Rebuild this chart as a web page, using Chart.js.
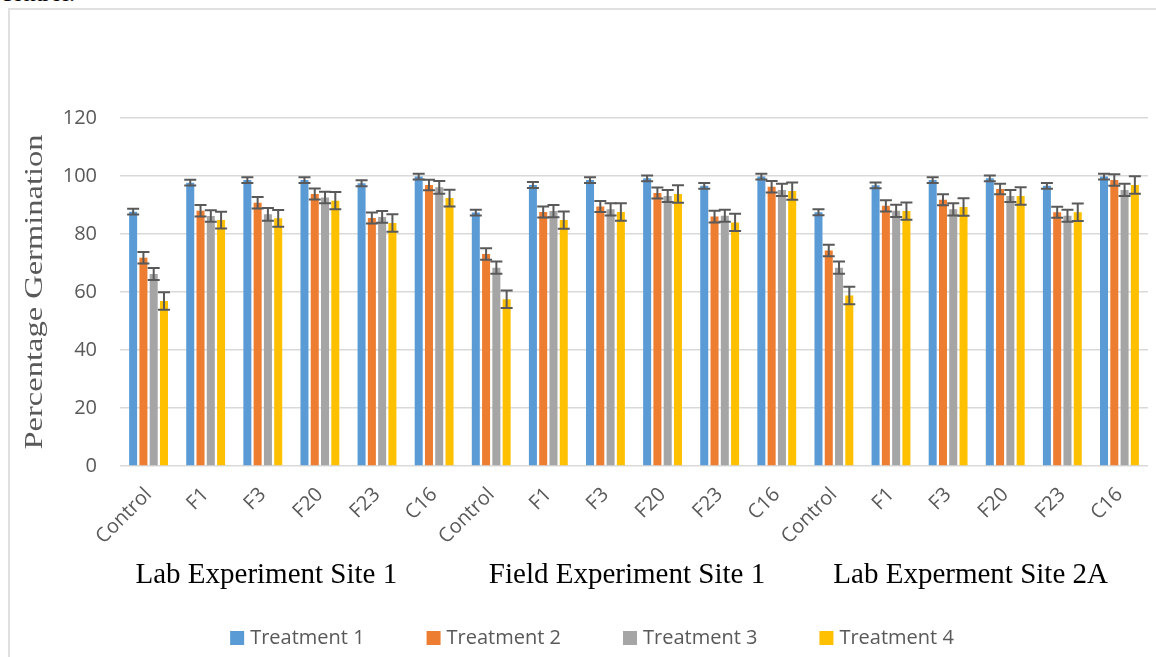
<!DOCTYPE html>
<html>
<head>
<meta charset="utf-8">
<script src="https://cdn.jsdelivr.net/npm/chart.js@4/dist/chart.umd.min.js"></script>
<style>
  body { margin: 0; background: #fff; overflow: hidden; }
  #frame { position: absolute; left: 8px; top: 8px; width: 2000px; height: 2000px;
    border-left: 2px solid #e0e0e0; border-top: 2px solid #e0e0e0; }
  #clip { position: absolute; left: 1px; top: -19px; font: 24px 'Liberation Serif', serif;
    line-height: 24px; color: #000; }
  #myChart { position: absolute; left: 0; top: 0; }
</style>
</head>
<body>
<div id="clip">control.</div>
<div id="frame"></div>
<canvas id="myChart" width="1156" height="657"></canvas>
<script>
const categories = ['Control', 'F1', 'F3', 'F20', 'F23', 'C16',
  'Control', 'F1', 'F3', 'F20', 'F23', 'C16',
  'Control', 'F1', 'F3', 'F20', 'F23', 'C16'];
const groups = ['Lab Experiment Site 1', 'Field Experiment Site 1', 'Lab Experment Site 2A'];
const seriesNames = ['Treatment 1', 'Treatment 2', 'Treatment 3', 'Treatment 4'];

const treatment1 = [87.7, 97.7, 98.6, 98.6, 97.5, 99.8, 87.4, 96.9, 98.6, 99.2, 96.6, 99.8, 87.5, 96.8, 98.6, 99.2, 96.6, 99.8];
const treatment2 = [71.8, 88.0, 90.8, 93.8, 85.5, 96.9, 73.1, 87.6, 89.5, 94.1, 86.0, 96.3, 74.3, 89.7, 91.8, 95.5, 87.5, 98.6];
const treatment3 = [66.2, 86.2, 86.8, 92.6, 85.9, 96.1, 68.4, 87.9, 88.5, 93.1, 86.3, 95.2, 68.4, 88.0, 88.5, 93.1, 86.3, 95.2];
const treatment4 = [56.9, 84.8, 85.4, 91.5, 83.8, 92.4, 57.5, 84.8, 87.6, 93.8, 84.0, 94.8, 58.8, 87.9, 89.3, 93.1, 87.5, 96.9];

const error1 = [1, 1, 1, 1, 1, 1, 1, 1, 1, 1, 1, 1, 1, 1, 1, 1, 1, 1];
const error2 = [2, 2, 2, 1.9, 1.9, 1.8, 2, 1.9, 1.9, 1.9, 2, 2, 2, 1.9, 1.9, 1.8, 1.9, 2];
const error3 = [2.1, 2, 2.2, 2, 2, 2.2, 2.1, 2.1, 2.1, 2.1, 2.1, 2.1, 2.1, 2.1, 2.1, 2.1, 2.1, 2.1];
const error4 = [3, 2.9, 2.9, 3, 3, 2.9, 3, 3, 3, 3, 3, 3, 3, 3, 3, 3, 3, 3];

const yTicks = [0, 20, 40, 60, 80, 100, 120];

const colors = ['#5B9BD5', '#ED7D31', '#A5A5A5', '#FFC000'];
const values = [treatment1, treatment2, treatment3, treatment4];
const errors = [error1, error2, error3, error4];

const tickFont = { family: "'Open Sans'", size: 20 };
const grey = '#595959';

// error bars, axis title, group names and legend
const extras = {
  id: 'extras',
  afterDatasetsDraw(chart) {
    const ctx = chart.ctx;
    const y = chart.scales.y;
    ctx.save();
    ctx.strokeStyle = grey;
    ctx.lineWidth = 2;
    chart.data.datasets.forEach((ds, d) => {
      const meta = chart.getDatasetMeta(d);
      meta.data.forEach((bar, i) => {
        const top = y.getPixelForValue(ds.data[i] + ds.errors[i]);
        const bottom = y.getPixelForValue(ds.data[i] - ds.errors[i]);
        ctx.beginPath();
        ctx.moveTo(bar.x, top); ctx.lineTo(bar.x, bottom);
        ctx.moveTo(bar.x - 6, top); ctx.lineTo(bar.x + 6, top);
        ctx.moveTo(bar.x - 6, bottom); ctx.lineTo(bar.x + 6, bottom);
        ctx.stroke();
      });
    });
    ctx.restore();
  },
  afterDraw(chart) {
    const ctx = chart.ctx;
    const area = chart.chartArea;
    const x = chart.scales.x;
    ctx.save();

    // y title, a bit stretched like the source picture
    ctx.translate(35, (area.top + area.bottom) / 2);
    ctx.rotate(-Math.PI / 2);
    ctx.scale(1.3, 1);
    ctx.font = "25px 'Liberation Serif'";
    ctx.fillStyle = grey;
    ctx.textAlign = 'center';
    ctx.textBaseline = 'middle';
    ctx.fillText('Percentage Germination', 0, 0);
    ctx.setTransform(1, 0, 0, 1, 0, 0);

    // group names under the categories
    const nudge = [-25, -7, -6];
    ctx.font = "29px 'Liberation Serif'";
    ctx.fillStyle = '#000';
    ctx.textAlign = 'center';
    ctx.textBaseline = 'alphabetic';
    groups.forEach((g, k) => {
      const mid = (x.getPixelForValue(k * 6) + x.getPixelForValue(k * 6 + 5)) / 2;
      ctx.fillText(g, mid + nudge[k], 583);
    });

    // legend
    ctx.font = "20px 'Open Sans'";
    ctx.textAlign = 'left';
    ctx.textBaseline = 'middle';
    const box = 14, gap = 6, space = 62;
    let total = 0;
    seriesNames.forEach((n, k) => {
      total += box + gap + ctx.measureText(n).width + (k ? space : 0);
    });
    let lx = 592 - total / 2;
    seriesNames.forEach((n, k) => {
      ctx.fillStyle = colors[k];
      ctx.fillRect(lx, 631, box, box);
      ctx.fillStyle = grey;
      ctx.fillText(n, lx + box + gap, 638);
      lx += box + gap + ctx.measureText(n).width + space;
    });
    ctx.restore();
  }
};

const ctx = document.getElementById('myChart');
const myChart = new Chart(ctx, {
  type: 'bar',
  data: {
    labels: categories,
    datasets: seriesNames.map((name, k) => ({
      label: name,
      data: values[k],
      errors: errors[k],
      backgroundColor: colors[k],
      categoryPercentage: 0.72,
      barPercentage: 0.78
    }))
  },
  options: {
    responsive: false,
    animation: false,
    layout: { padding: { top: 118, right: 8, left: 0, bottom: 0 } },
    plugins: {
      legend: { display: false },
      tooltip: { enabled: false }
    },
    scales: {
      x: {
        grid: { display: false },
        border: { display: false },
        ticks: {
          font: tickFont,
          color: grey,
          minRotation: 45,
          maxRotation: 45,
          autoSkip: false,
          padding: 9
        },
        afterFit(scale) { scale.height = 191; }
      },
      y: {
        min: 0,
        max: 120,
        afterBuildTicks(scale) { scale.ticks = yTicks.map(v => ({ value: v })); },
        grid: { color: '#d9d9d9', lineWidth: 1.5, drawTicks: false },
        border: { display: false },
        ticks: { font: tickFont, color: grey, padding: 23 },
        afterFit(scale) { scale.width = 120; }
      }
    }
  },
  plugins: [extras]
});
</script>
</body>
</html>
